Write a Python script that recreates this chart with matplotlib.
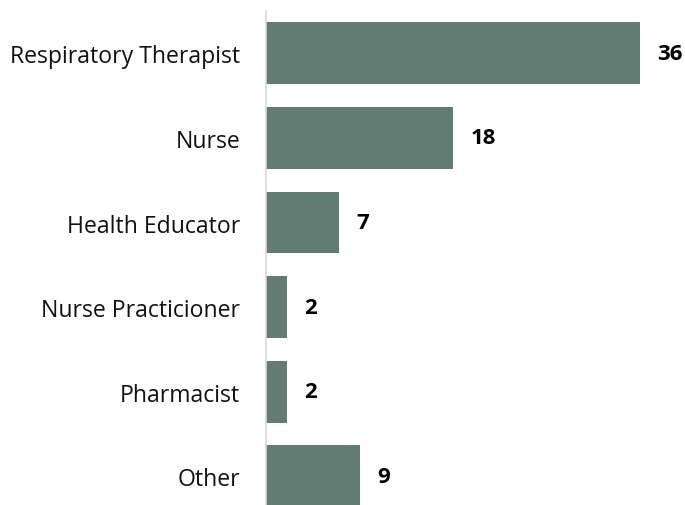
import matplotlib.pyplot as plt

categorias = ["Respiratory Therapist", "Nurse", "Health Educator",
              "Nurse Practicioner", "Pharmacist", "Other"]
valores = [36, 18, 7, 2, 2, 9]

plt.rcParams["font.family"] = ["Open Sans", "DejaVu Sans"]

fig = plt.figure(figsize=(6.85, 5.06), dpi=100)
# eje desde x=266 px, arriba en y=12 px; abajo se corta fuera de la figura
ax = fig.add_axes([266 / 685, 1 - 519.6 / 506, 1 - 266 / 685, (519.6 - 12) / 506])

pos = list(range(len(categorias)))
ax.barh(pos, valores, height=0.73, color="#627b73")
ax.set_ylim(5.5, -0.5)
ax.set_xlim(0, 419 / 10.39)

ax.set_yticks(pos)
ax.set_yticklabels(categorias, fontsize=16.6, color="#111111")
ax.tick_params(axis="y", length=0, pad=18.5)
ax.set_xticks([])

for s in ["top", "right", "bottom"]:
    ax.spines[s].set_visible(False)
ax.spines["left"].set_color("#d9d9d9")
ax.spines["left"].set_linewidth(1.2)

for p, v in zip(pos, valores):
    ax.annotate(str(v), (v, p), xytext=(12.5, 0), textcoords="offset points",
                va="center", ha="left", fontsize=16, fontweight="bold", color="black")

fig.savefig("out.png", dpi=100)
